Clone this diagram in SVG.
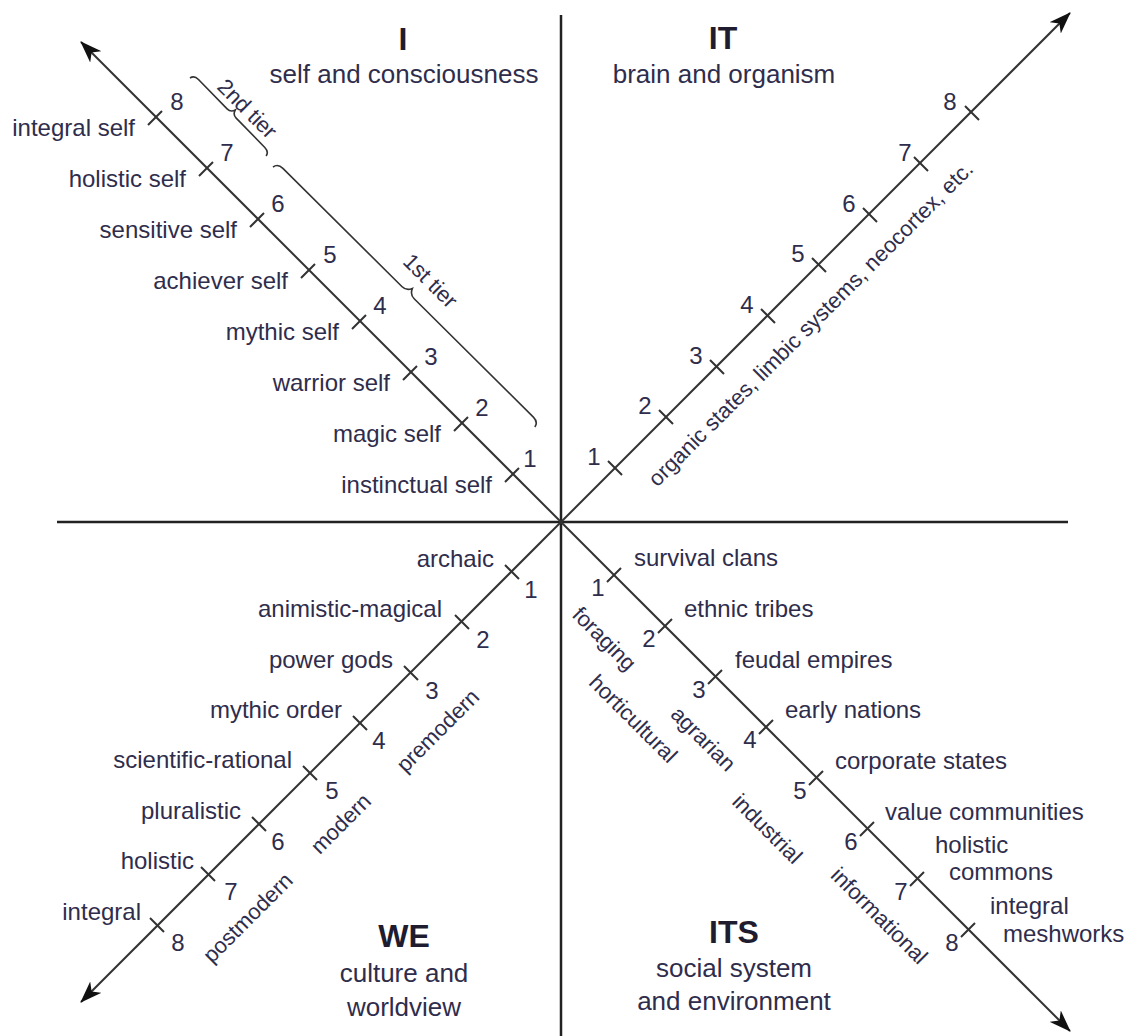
<svg xmlns="http://www.w3.org/2000/svg" width="1141" height="1036" viewBox="0 0 1141 1036">
<style>
text{font-family:"Liberation Sans",Arial,sans-serif;fill:#2f2d4c}
.t{font-size:32px;font-weight:bold;text-anchor:middle;fill:#1e1c2e}
.s{font-size:26px;text-anchor:middle}
.l{font-size:24px}
.e{text-anchor:end}
.m{text-anchor:middle}
.r{font-size:22px;text-anchor:middle}
.ax{stroke:#222;stroke-width:2.5;fill:none}
.dg{stroke:#333;stroke-width:2;fill:none}
.tk{stroke:#333;stroke-width:2;fill:none}
.br{stroke:#333;stroke-width:1.6;fill:none}
</style>
<defs>
<marker id="ah" viewBox="0 0 22 16" refX="21" refY="8" markerWidth="22" markerHeight="16" markerUnits="userSpaceOnUse" orient="auto">
<path d="M22,8 L0,0 L6,8 L0,16 Z" fill="#111"/>
</marker>
</defs>

<g id="connectors">
<line class="ax" x1="561" y1="15" x2="561" y2="1036"/>
<line class="ax" x1="57" y1="522" x2="1068" y2="522"/>
<line class="dg" x1="561" y1="522" x2="81" y2="42" marker-end="url(#ah)"/>
<line class="dg" x1="561" y1="522" x2="1070" y2="13" marker-end="url(#ah)"/>
<line class="dg" x1="561" y1="522" x2="81" y2="1002" marker-end="url(#ah)"/>
<line class="dg" x1="561" y1="522" x2="1070" y2="1031" marker-end="url(#ah)"/>
</g>

<g id="quadrant-I">
<text class="t" x="403" y="50">I</text>
<text class="s" x="404" y="83">self and consciousness</text>
<g class="tk">
<path d="M505,482 L519,468 M454,431 L468,417 M403,380 L417,366 M352,329 L366,315 M301,278 L315,264 M250,227 L264,213 M199,176 L213,162 M148,125 L162,111"/>
</g>
<g class="l">
<text class="e" x="492" y="493">instinctual self</text>
<text class="e" x="441" y="442">magic self</text>
<text class="e" x="390" y="391">warrior self</text>
<text class="e" x="339" y="340">mythic self</text>
<text class="e" x="288" y="289">achiever self</text>
<text class="e" x="237" y="238">sensitive self</text>
<text class="e" x="186" y="187">holistic self</text>
<text class="e" x="135" y="136">integral self</text>
<text class="m" x="530" y="467">1</text>
<text class="m" x="482" y="416">2</text>
<text class="m" x="431" y="365">3</text>
<text class="m" x="380" y="314">4</text>
<text class="m" x="330" y="263">5</text>
<text class="m" x="278" y="212">6</text>
<text class="m" x="227" y="161">7</text>
<text class="m" x="177" y="110">8</text>
</g>
<path class="br" transform="translate(190,78) rotate(45.7)" d="M0,0 Q1,-5 7,-5 L48,-5 Q53,-5 54.5,-10 Q56,-5 61,-5 L102,-5 Q108,-5 109,0"/>
<path class="br" transform="translate(273,167) rotate(44.8)" d="M0,0 Q1,-6 8,-6 L176,-6 Q182,-6 184.5,-12 Q187,-6 193,-6 L361,-6 Q368,-6 369,0"/>
<text class="r" transform="translate(242,114) rotate(45)">2nd tier</text>
<text class="r" transform="translate(425,286) rotate(45)">1st tier</text>
</g>

<g id="quadrant-IT">
<text class="t" x="723" y="49">IT</text>
<text class="s" x="724" y="83">brain and organism</text>
<g class="tk">
<path d="M608,461 L622,475 M659,410 L673,424 M710,360 L724,374 M761,309 L775,323 M812,258 L826,272 M863,208 L877,222 M914,157 L928,171 M965,106 L979,120"/>
</g>
<g class="l">
<text class="m" x="594" y="465">1</text>
<text class="m" x="645" y="414">2</text>
<text class="m" x="696" y="364">3</text>
<text class="m" x="747" y="313">4</text>
<text class="m" x="798" y="262">5</text>
<text class="m" x="849" y="212">6</text>
<text class="m" x="905" y="161">7</text>
<text class="m" x="950" y="110">8</text>
</g>
<text class="r" transform="translate(816,329) rotate(-45)">organic states, limbic systems, neocortex, etc.</text>
</g>

<g id="quadrant-WE">
<text class="t" x="404" y="947">WE</text>
<text class="s" x="404" y="982">culture and</text>
<text class="s" x="404" y="1016">worldview</text>
<g class="tk">
<path d="M505,565 L519,579 M455,615 L469,629 M404,666 L418,680 M353,716 L367,730 M303,766 L317,780 M252,817 L266,831 M201,867 L215,881 M150,918 L164,932"/>
</g>
<g class="l">
<text class="e" x="494" y="567">archaic</text>
<text class="e" x="442" y="617">animistic-magical</text>
<text class="e" x="393" y="668">power gods</text>
<text class="e" x="342" y="718">mythic order</text>
<text class="e" x="292" y="768">scientific-rational</text>
<text class="e" x="241" y="819">pluralistic</text>
<text class="e" x="194" y="869">holistic</text>
<text class="e" x="141" y="920">integral</text>
<text class="m" x="531" y="598">1</text>
<text class="m" x="483" y="648">2</text>
<text class="m" x="432" y="699">3</text>
<text class="m" x="379" y="749">4</text>
<text class="m" x="332" y="799">5</text>
<text class="m" x="278" y="850">6</text>
<text class="m" x="231" y="900">7</text>
<text class="m" x="178" y="951">8</text>
</g>
<text class="r" transform="translate(443,736) rotate(-45)">premodern</text>
<text class="r" transform="translate(346,829) rotate(-45)">modern</text>
<text class="r" transform="translate(253,923) rotate(-45)">postmodern</text>
</g>

<g id="quadrant-ITS">
<text class="t" x="734" y="943">ITS</text>
<text class="s" x="734" y="977">social system</text>
<text class="s" x="734" y="1010">and environment</text>
<g class="tk">
<path d="M607,582 L621,568 M658,633 L672,619 M708,684 L722,670 M759,734 L773,720 M809,785 L823,771 M860,836 L874,822 M910,886 L924,872 M961,937 L975,923"/>
</g>
<g class="l">
<text x="634" y="566">survival clans</text>
<text x="684" y="617">ethnic tribes</text>
<text x="735" y="668">feudal empires</text>
<text x="785" y="718">early nations</text>
<text x="835" y="769">corporate states</text>
<text x="885" y="820">value communities</text>
<text x="935" y="853">holistic</text>
<text x="949" y="880">commons</text>
<text x="990" y="914">integral</text>
<text x="1003" y="942">meshworks</text>
<text class="m" x="598" y="596">1</text>
<text class="m" x="649" y="647">2</text>
<text class="m" x="699" y="698">3</text>
<text class="m" x="750" y="748">4</text>
<text class="m" x="800" y="799">5</text>
<text class="m" x="851" y="850">6</text>
<text class="m" x="901" y="900">7</text>
<text class="m" x="952" y="951">8</text>
</g>
<text class="r" transform="translate(599,644) rotate(45)">foraging</text>
<text class="r" transform="translate(628,724) rotate(45)">horticultural</text>
<text class="r" transform="translate(698,744) rotate(45)">agrarian</text>
<text class="r" transform="translate(762,834) rotate(45)">industrial</text>
<text class="r" transform="translate(874,921) rotate(45)">informational</text>
</g>
</svg>
